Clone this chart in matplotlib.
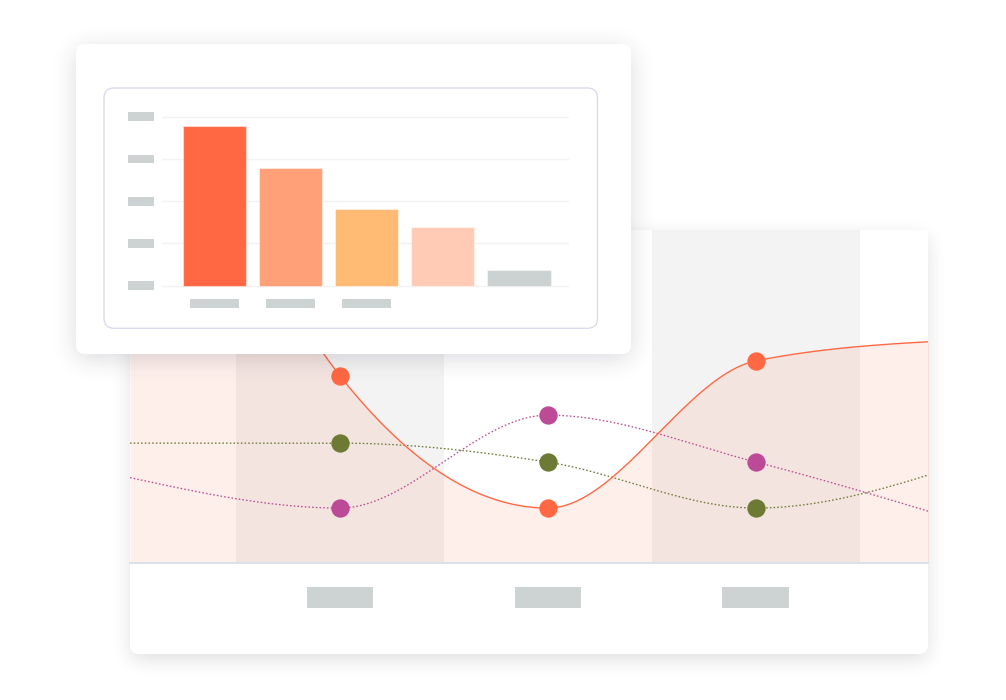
import numpy as np
import matplotlib
matplotlib.use("Agg")
import matplotlib.pyplot as plt
from matplotlib.patches import FancyBboxPatch, Rectangle
from matplotlib.transforms import blended_transform_factory

# ---------------- data ----------------
# bar chart (front card)
bar_values = [94.7, 69.8, 45.6, 34.6, 9.1]
bar_colors = ["#FF6842", "#FFA078", "#FFBA73", "#FFCBB5", "#CCD2D1"]
bar_gridlines = [0, 25, 50, 75, 100]
bar_has_label = [True, True, True, False, False]

# smooth line chart (back card); categories -1 and 3 run past the edges
line_positions = [-1, 0, 1, 2, 3]
line_has_label = [False, True, True, True, False]
orange_vals = [180.0, 56.2, 16.5, 60.7, 67.0]
purple_vals = [25.5, 16.5, 44.4, 30.3, 12.3]
olive_vals = [36.0, 36.0, 30.3, 16.5, 29.8]

ORANGE = "#FF6842"
PURPLE = "#BC4A96"
OLIVE = "#6D7A33"
PLACEHOLDER = "#CDD3D2"
BAND = "#F3F3F3"

W, H = 1006, 700
fig = plt.figure(figsize=(W / 100, H / 100), dpi=100)
fig.patch.set_facecolor("white")


def px_axes(x0, y0, x1, y1, z):
    ax = fig.add_axes([x0 / W, 1 - y1 / H, (x1 - x0) / W, (y1 - y0) / H])
    ax.set_zorder(z)
    return ax


def canvas_axes(z):
    ax = fig.add_axes([0, 0, 1, 1])
    ax.set_xlim(0, W)
    ax.set_ylim(H, 0)
    ax.set_axis_off()
    ax.set_zorder(z)
    return ax


def blur(a, s):
    k = np.arange(-int(3 * s), int(3 * s) + 1)
    g = np.exp(-k ** 2 / (2.0 * s * s))
    g /= g.sum()
    a = np.apply_along_axis(lambda v: np.convolve(v, g, mode="same"), 1, a)
    a = np.apply_along_axis(lambda v: np.convolve(v, g, mode="same"), 0, a)
    return a


def shadow_image(x0, y0, x1, y1, r, sigma, dy, strength):
    yy, xx = np.mgrid[0:H, 0:W] + 0.5
    cx, cy = (x0 + x1) / 2, (y0 + y1) / 2 + dy
    hw, hh = (x1 - x0) / 2, (y1 - y0) / 2
    qx = np.abs(xx - cx) - (hw - r)
    qy = np.abs(yy - cy) - (hh - r)
    d = np.hypot(np.maximum(qx, 0), np.maximum(qy, 0)) + np.minimum(np.maximum(qx, qy), 0) - r
    mask = np.clip(0.5 - d, 0, 1)
    alpha = blur(mask, sigma) * strength
    img = np.zeros((H, W, 4))
    img[..., 0] = 40 / 255
    img[..., 1] = 40 / 255
    img[..., 2] = 60 / 255
    img[..., 3] = alpha
    return img


def card(ax, x0, y0, x1, y1, r, **kw):
    p = FancyBboxPatch((x0, y0), x1 - x0, y1 - y0,
                       boxstyle=f"round,pad=0,rounding_size={r}",
                       mutation_aspect=1, **kw)
    ax.add_patch(p)
    return p


def monotone_curve(x, y, x_from, x_to, n=900):
    # monotone cubic (d3 curveMonotoneX style) through the points
    x = np.asarray(x, float)
    y = np.asarray(y, float)
    h = np.diff(x)
    s = np.diff(y) / h
    m = np.zeros_like(y)
    for i in range(1, len(x) - 1):
        p = (s[i - 1] * h[i] + s[i] * h[i - 1]) / (h[i - 1] + h[i])
        m[i] = (np.sign(s[i - 1]) + np.sign(s[i])) * min(abs(s[i - 1]), abs(s[i]), 0.5 * abs(p))
    m[0] = (3 * s[0] - m[1]) / 2
    m[-1] = (3 * s[-1] - m[-2]) / 2
    xs = np.linspace(x_from, x_to, n)
    idx = np.clip(np.searchsorted(x, xs, side="right") - 1, 0, len(x) - 2)
    t = (xs - x[idx]) / h[idx]
    h00 = 2 * t ** 3 - 3 * t ** 2 + 1
    h10 = t ** 3 - 2 * t ** 2 + t
    h01 = -2 * t ** 3 + 3 * t ** 2
    h11 = t ** 3 - t ** 2
    ys = h00 * y[idx] + h10 * h[idx] * m[idx] + h01 * y[idx + 1] + h11 * h[idx] * m[idx + 1]
    return xs, ys


# ---------------- back card ----------------
ax_bg = canvas_axes(0)
ax_bg.imshow(shadow_image(130, 230, 928, 654, 9, 9, 6, 0.14),
             extent=(0, W, H, 0), interpolation="bilinear", aspect="auto", zorder=0)
card(ax_bg, 130, 230, 928, 654, 9, facecolor="white", edgecolor="none", zorder=1)
ax_bg.set_xlim(0, W)
ax_bg.set_ylim(H, 0)

X_LO, X_HI = -1.0096, 2.827
ax_line = px_axes(130, 230, 928, 563, 1)
ax_line.set_xlim(X_LO, X_HI)
ax_line.set_ylim(0, 100)
for c in line_positions:
    ax_line.axvspan(c - 0.5, c + 0.5, color=BAND if c % 2 == 0 else "white", lw=0, zorder=0)

xs, ys_or = monotone_curve(line_positions, orange_vals, X_LO, line_positions[-1])
_, ys_pu = monotone_curve(line_positions, purple_vals, X_LO, line_positions[-1])
_, ys_ol = monotone_curve(line_positions, olive_vals, X_LO, line_positions[-1])

ax_line.fill_between(xs, ys_or, 0, color=ORANGE, alpha=0.1, lw=0, zorder=1)
ax_line.plot(xs, ys_or, color=ORANGE, lw=1.0, zorder=3, solid_capstyle="round")
ax_line.plot(xs, ys_pu, color=PURPLE, lw=0.95, ls=(0, (1.2, 1.6)), zorder=2)
ax_line.plot(xs, ys_ol, color=OLIVE, lw=0.95, ls=(0, (1.2, 1.6)), zorder=2)

shown = [i for i, f in enumerate(line_has_label) if f]
for vals, col in [(orange_vals, ORANGE), (purple_vals, PURPLE), (olive_vals, OLIVE)]:
    ax_line.plot([line_positions[i] for i in shown], [vals[i] for i in shown],
                 ls="none", marker="o", ms=13.2, color=col, mec="none", zorder=4)

for s in ["top", "left", "right"]:
    ax_line.spines[s].set_visible(False)
ax_line.spines["bottom"].set_color("#DCE0EB")
ax_line.spines["bottom"].set_linewidth(1.4)
ax_line.spines["bottom"].set_zorder(5)
ax_line.set_xticks([])
ax_line.set_yticks([])

# x-axis label placeholders of the back chart
tr_line_x = blended_transform_factory(ax_line.transData, ax_bg.transData)
for i in shown:
    ax_line.add_patch(Rectangle((line_positions[i] - 0.161, 587), 0.322, 21,
                                transform=tr_line_x, color=PLACEHOLDER, lw=0, clip_on=False))

# ---------------- front card ----------------
ax_fg = canvas_axes(2)
ax_fg.imshow(shadow_image(76, 44, 631, 354, 10, 12, 5, 0.17),
             extent=(0, W, H, 0), interpolation="bilinear", aspect="auto", zorder=0)
card(ax_fg, 76, 44, 631, 354, 9, facecolor="white", edgecolor="none", zorder=1)
card(ax_fg, 104, 88, 597.5, 328.3, 10, facecolor="white", edgecolor="#D5D9EA", lw=0.9, zorder=2)
ax_fg.set_xlim(0, W)
ax_fg.set_ylim(H, 0)

ax_bar = px_axes(161.6, 110, 569, 291, 3)
ax_bar.set_facecolor("none")
ax_bar.set_xlim(-0.693, 4.66)
ax_bar.set_ylim(-3.2, 104)
for v in bar_gridlines:
    ax_bar.axhline(v, color="#F2F2F2", lw=1.0, zorder=0)
ax_bar.bar(range(len(bar_values)), bar_values, width=0.834, color=bar_colors,
           edgecolor=(1, 1, 1, 0.45), lw=0.8, zorder=2)
for s in ax_bar.spines.values():
    s.set_visible(False)
ax_bar.set_xticks([])
ax_bar.set_yticks([])

# tick label placeholders of the bar chart
tr_bar_y = blended_transform_factory(ax_fg.transData, ax_bar.transData)
for v in bar_gridlines:
    ax_bar.add_patch(Rectangle((128, v - 2.57), 26, 5.14, transform=tr_bar_y,
                               color=PLACEHOLDER, lw=0, clip_on=False))
tr_bar_x = blended_transform_factory(ax_bar.transData, ax_fg.transData)
for i, f in enumerate(bar_has_label):
    if f:
        ax_bar.add_patch(Rectangle((i - 0.325, 299), 0.65, 8.7, transform=tr_bar_x,
                                   color=PLACEHOLDER, lw=0, clip_on=False))

fig.savefig("out.png", dpi=100, facecolor="white")
